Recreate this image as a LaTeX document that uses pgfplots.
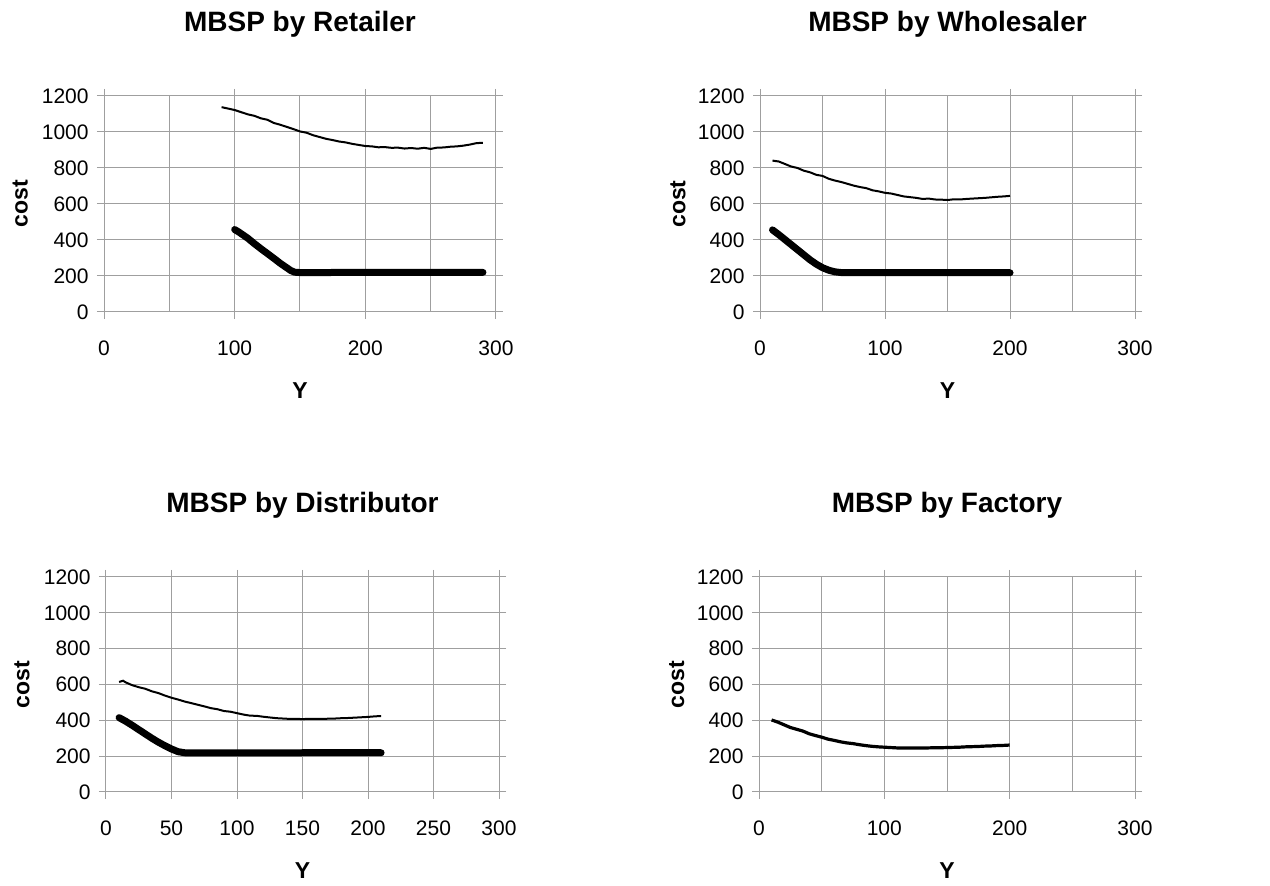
\documentclass[border=0pt]{standalone}
\usepackage{fontspec}
\setmainfont{Liberation Sans}
\usepackage{pgfplots}
\pgfplotsset{compat=1.18}

\pgfplotsset{
  mbsp/.style={
    scale only axis, anchor=south west,
    xmin=0, xmax=300, ymin=0, ymax=1200,
    ytick={0,200,...,1200},
    grid=both,
    grid style={gray!75, line width=0.5pt},
    minor grid style={gray!75, line width=0.5pt},
    axis line style={gray!75, line width=0.5pt},
    tick style={gray!75, line width=0.5pt},
    tick align=outside, major tick length=3.5pt, minor tick length=0pt,
    /pgf/number format/assume math mode=true,
    /pgf/number format/1000 sep={},
    ticklabel style={font=\fontsize{10.5}{12}\selectfont},
    yticklabel style={anchor=east, inner sep=0pt, xshift=-4pt},
    xticklabel style={anchor=center, yshift=-14.5pt},
    title style={at={(axis description cs:0.5,1)}, anchor=center, yshift=30pt, font=\fontsize{14}{16}\selectfont\bfseries},
    label style={font=\fontsize{11.5}{13}\selectfont\bfseries},
    xlabel style={at={(axis description cs:0.5,0)}, anchor=center, yshift=-39.5pt},
    xlabel={Y}, ylabel={cost},
  },
  thin line/.style={black, line width=1pt, no marks},
  thick line/.style={black, line width=3.5pt, line cap=round, no marks},
}

\begin{document}
\begin{tikzpicture}
\path (0,0) rectangle (635pt,441pt);

% retailer
\begin{axis}[mbsp, at={(52pt,285pt)}, width=196pt, height=108pt,
  title={MBSP by Retailer},
  xtick={0,100,200,300}, minor xtick={50,150,250},
  ylabel style={at={(axis description cs:-0.214,0.5)}, anchor=center}]
\addplot[thin line] coordinates {
(90,1138) (95,1130) (100,1122) (105,1110) (110,1098) (115,1090) (120,1076)
(125,1068) (130,1050) (135,1040) (140,1028) (145,1016) (150,1003) (155,996)
(160,982) (165,972) (170,962) (175,955) (180,947) (185,942) (190,934)
(195,928) (200,922) (205,920) (210,915) (215,916) (220,912) (225,913)
(230,908) (235,911) (240,907) (245,912) (250,906) (255,913) (260,914)
(265,918) (270,920) (275,924) (280,930) (285,938) (290,940)};
\addplot[thick line] coordinates {
(100,458) (103,445) (106,430) (110,410) (115,380) (120,352) (125,325)
(130,298) (135,270) (140,245) (143,230) (146,221) (150,219) (160,219)
(200,220) (250,220) (290,220)};
\end{axis}

% wholesaler
\begin{axis}[mbsp, at={(380pt,285pt)}, width=187.5pt, height=108pt,
  title={MBSP by Wholesaler},
  xtick={0,100,200,300}, minor xtick={50,150,250},
  ylabel style={at={(axis description cs:-0.219,0.5)}, anchor=center}]
\addplot[thin line] coordinates {
(10,841) (15,836) (20,822) (25,808) (30,800) (35,785) (40,776) (45,762)
(50,756) (55,740) (60,730) (65,722) (70,712) (75,702) (80,694) (85,688)
(90,676) (95,670) (100,662) (105,658) (110,650) (115,642) (120,638)
(125,634) (130,628) (135,630) (140,625) (145,624) (150,622) (155,626)
(160,625) (165,628) (170,630) (175,632) (180,634) (185,637) (190,640)
(195,642) (200,645)};
\addplot[thick line] coordinates {
(10,456) (15,430) (20,402) (25,374) (30,346) (35,318) (40,290) (45,266)
(50,246) (55,232) (60,223) (65,219) (70,218) (100,218) (150,218) (200,218)};
\end{axis}

% distributor
\begin{axis}[mbsp, at={(53pt,45pt)}, width=196.5pt, height=107.5pt,
  title={MBSP by Distributor},
  xtick={0,50,...,300},
  ylabel style={at={(axis description cs:-0.214,0.5)}, anchor=center}]
\addplot[thin line] coordinates {
(10,614) (13,621) (15,612) (20,596) (25,585) (30,576) (35,562) (40,552)
(45,538) (50,526) (55,516) (60,505) (65,496) (70,487) (75,478) (80,468)
(85,462) (90,452) (95,448) (100,440) (105,432) (110,426) (115,425)
(120,420) (125,416) (130,412) (135,410) (140,408) (145,408) (150,407)
(155,408) (160,408) (165,408) (170,409) (175,410) (180,412) (185,413)
(190,415) (195,417) (200,419) (205,422) (210,424)};
\addplot[thick line] coordinates {
(10,415) (15,395) (20,372) (25,348) (30,324) (35,300) (40,278) (45,258)
(50,240) (55,225) (60,219) (70,218) (100,218) (150,219) (210,219)};
\end{axis}

% factory
\begin{axis}[mbsp, at={(379.5pt,45pt)}, width=188pt, height=107.5pt,
  title={MBSP by Factory},
  xtick={0,100,200,300}, minor xtick={50,150,250},
  ylabel style={at={(axis description cs:-0.219,0.5)}, anchor=center}]
\addplot[black, line width=1.6pt, no marks] coordinates {
(10,402) (15,390) (20,375) (25,360) (30,350) (35,340) (40,325) (45,315)
(50,306) (55,295) (60,288) (65,280) (70,274) (75,270) (80,264) (85,259)
(90,255) (95,252) (100,250) (105,248) (110,246) (115,246) (120,246)
(125,246) (130,245) (135,246) (140,247) (145,247) (150,248) (155,249)
(160,250) (165,252) (170,253) (175,254) (180,256) (185,257) (190,259)
(195,260) (200,262)};
\end{axis}
\end{tikzpicture}
\end{document}
